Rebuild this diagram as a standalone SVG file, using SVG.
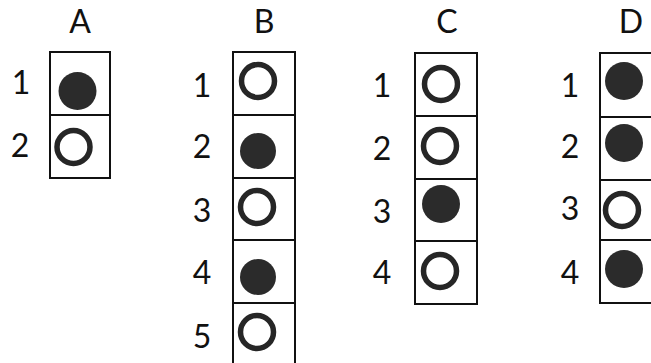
<svg xmlns="http://www.w3.org/2000/svg" width="651" height="363" viewBox="0 0 651 363">
<style>
text{font-family:Lato,"Open Sans","Liberation Sans",sans-serif;font-size:32px;fill:#111;text-anchor:middle}
.box{fill:none;stroke:#111;stroke-width:2}
.on{fill:#2b2b2b}
.off{fill:none;stroke:#262626;stroke-width:5.5}
</style>
<rect width="651" height="363" fill="#fff"/>
<g id="colA">
<text x="80" y="33">A</text>
<text x="21" y="94">1</text>
<text x="20" y="157">2</text>
<rect class="box" x="50" y="52" width="60" height="126"/>
<line class="box" x1="50" y1="115" x2="110" y2="115"/>
<circle class="on" cx="77.5" cy="91" r="19"/>
<circle class="off" cx="73.5" cy="147" r="16.5"/>
</g>
<g id="colB">
<text x="264" y="33">B</text>
<text x="202" y="97">1</text>
<text x="202" y="158">2</text>
<text x="202" y="222">3</text>
<text x="202" y="284">4</text>
<text x="202" y="348">5</text>
<path class="box" d="M233,370V52H295V370M233,115H295M233,178H295M233,240H295M233,303H295"/>
<circle class="off" cx="258" cy="81" r="16.5"/>
<circle class="on" cx="258" cy="151" r="18"/>
<circle class="off" cx="257" cy="207" r="16.5"/>
<circle class="on" cx="258" cy="277" r="18"/>
<circle class="off" cx="257" cy="332" r="16.5"/>
</g>
<g id="colC">
<text x="447" y="33">C</text>
<text x="382" y="97">1</text>
<text x="382" y="160">2</text>
<text x="382" y="223">3</text>
<text x="382" y="284">4</text>
<rect class="box" x="415" y="53" width="62" height="251"/>
<path class="box" d="M415,116H477M415,179H477M415,241H477"/>
<circle class="off" cx="441" cy="84" r="16.5"/>
<circle class="off" cx="440" cy="146" r="16.5"/>
<circle class="on" cx="441" cy="204" r="19"/>
<circle class="off" cx="440" cy="271" r="16.5"/>
</g>
<g id="colD">
<text x="631" y="33">D</text>
<text x="570" y="97">1</text>
<text x="570" y="158">2</text>
<text x="570" y="220">3</text>
<text x="570" y="284">4</text>
<path class="box" d="M660,53H600V303H660M600,117H660M600,180H660M600,240H660"/>
<circle class="on" cx="624" cy="81" r="19"/>
<circle class="on" cx="624" cy="143" r="19"/>
<circle class="off" cx="622" cy="210" r="16.5"/>
<circle class="on" cx="624" cy="269" r="19"/>
</g>
</svg>
